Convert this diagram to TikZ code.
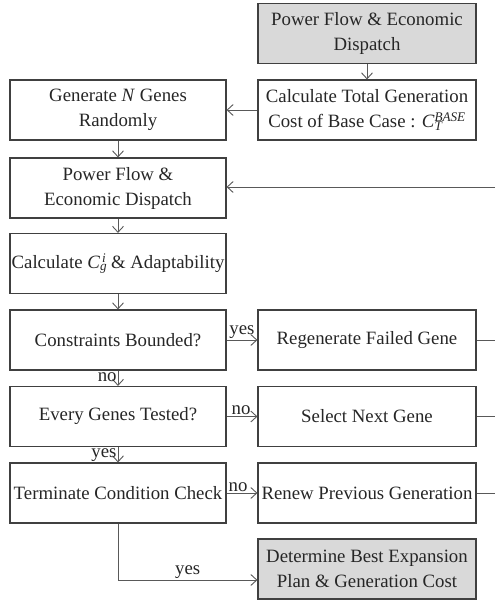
\documentclass[tikz,border=0pt]{standalone}
\usepackage{fontspec}
\setmainfont{Liberation Serif}
\usetikzlibrary{arrows.meta}
\newcommand{\subsup}[2]{\rlap{\textsubscript{\textit{#1}}}\textsuperscript{\textit{#2}}}
\begin{document}
\begin{tikzpicture}[x=1pt,y=-1pt,
  box/.style={draw=black!75,line width=1.1pt,minimum height=60pt,inner sep=0pt,align=center,
    font=\fontsize{18.8}{25}\selectfont,text=black!85},
  lbox/.style={box,minimum width=216pt},
  rbox/.style={box,minimum width=218pt},
  gbox/.style={rbox,fill=black!15},
  conn/.style={draw=black!65,line width=0.9pt},
  arr/.style={conn,-{Straight Barb[length=6pt,width=11pt]}},
  lbl/.style={font=\fontsize{18.8}{20}\selectfont,text=black!85,inner sep=1pt}]
\useasboundingbox (0,0) rectangle (495,601);
\node[gbox] (pftop) at (367,33.5) {Power Flow \& Economic\\Dispatch};
\node[rbox] (total) at (367,110) {Calculate Total Generation\\Cost of Base Case : \textit{C}\subsup{T}{BASE}};
\node[lbox] (gen) at (118,110) {Generate \textit{N} Genes\\Randomly};
\node[lbox] (pf) at (118,188) {Power Flow \&\\Economic Dispatch};
\node[lbox] (calc) at (118,263.5) {Calculate \textit{C}\subsup{g}{\,i} \& Adaptability};
\node[lbox] (cons) at (118,340) {Constraints Bounded?};
\node[lbox] (every) at (118,416.5) {Every Genes Tested?};
\node[lbox] (term) at (118,493) {Terminate Condition Check};
\node[rbox] (regen) at (367,340) {Regenerate Failed Gene};
\node[rbox] (select) at (367,416.5) {Select Next Gene};
\node[rbox] (renew) at (367,493) {Renew Previous Generation};
\node[gbox] (det) at (367,569) {Determine Best Expansion\\Plan \& Generation Cost};
\coordinate (loopin) at (495,187);
\coordinate (e1) at (495,340);
\coordinate (e2) at (495,416.5);
\coordinate (e3) at (495,493);
\coordinate (corner) at (118,580);
\draw[arr] (pftop) -- (total);
\draw[arr] (total) -- (gen);
\draw[arr] (gen) -- (pf);
\draw[arr] (loopin) -- (pf.east |- loopin);
\draw[arr] (pf) -- (calc);
\draw[arr] (calc) -- (cons);
\draw[arr] (cons) -- node[lbl,above]{yes} (regen);
\draw[arr] (cons) -- node[lbl,left,pos=0.45]{no} (every);
\draw[arr] (every) -- node[lbl,above,xshift=-1pt]{no} (select);
\draw[arr] (every) -- node[lbl,left,pos=0.5]{yes} (term);
\draw[arr] (term) -- node[lbl,above,xshift=-4pt]{no} (renew);
\draw[arr] (term.south) -- (corner) -- node[lbl,above]{yes} (det.west |- corner);
\draw[conn] (regen) -- (e1);
\draw[conn] (select) -- (e2);
\draw[conn] (renew) -- (e3);
\end{tikzpicture}
\end{document}
